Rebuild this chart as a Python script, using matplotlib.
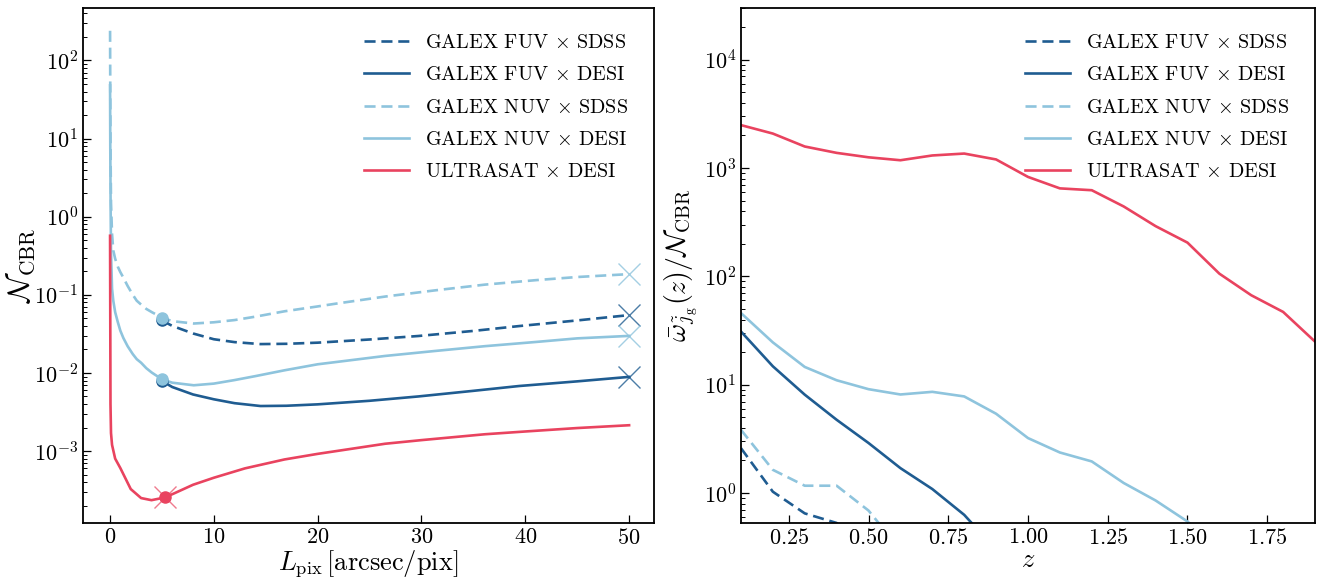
import numpy as np
import matplotlib
matplotlib.use("Agg")
import matplotlib.pyplot as plt

plt.rcParams['font.family'] = 'serif'
plt.rcParams['font.serif'] = ['cmr10', 'DejaVu Serif']
plt.rcParams['mathtext.fontset'] = 'cm'
plt.rcParams['axes.formatter.use_mathtext'] = True
plt.rcParams['axes.unicode_minus'] = False

c_dark = '#1f5c91'
c_light = '#8ec4dd'
c_red = '#e9435f'

labels = [r'GALEX FUV $\times$ SDSS', r'GALEX FUV $\times$ DESI',
          r'GALEX NUV $\times$ SDSS', r'GALEX NUV $\times$ DESI',
          r'ULTRASAT $\times$ DESI']

# ---- left panel: N_CBR vs L_pix ----
L_fuv = [5, 6, 8, 10, 12, 14.5, 17, 20, 25, 29.7, 35, 39.4, 45, 50]
N_fuv_sdss = [0.047, 0.040, 0.032, 0.027, 0.0248, 0.0234, 0.0236, 0.0244,
              0.0268, 0.0297, 0.0345, 0.0398, 0.047, 0.055]
N_fuv_desi = [0.0079, 0.0066, 0.0053, 0.0046, 0.0041, 0.00377, 0.0038, 0.00396,
              0.0044, 0.0050, 0.0059, 0.0068, 0.0078, 0.0089]

L_nuv = [0.01, 0.03, 0.06, 0.1, 0.2, 0.32, 0.5, 0.75, 1, 1.29, 1.7, 2.2, 2.58, 3, 3.5, 4.03,
         5, 6, 8.07, 10, 12, 14, 16.8, 20, 21.6, 26.5, 31.3, 36.1, 41, 45, 50]
N_nuv_sdss = [240, 40, 6, 1.5, 0.6, 0.37, 0.29, 0.23, 0.195, 0.166, 0.13, 0.1, 0.084, 0.075,
              0.066, 0.06, 0.0512, 0.046, 0.0429, 0.0445, 0.0475, 0.0525, 0.0615, 0.071, 0.0765,
              0.095, 0.114, 0.135, 0.154, 0.169, 0.184]
N_nuv_desi = [48, 8, 1.5, 0.35, 0.12, 0.084, 0.06, 0.045, 0.0347, 0.028, 0.022, 0.0174, 0.015,
              0.0135, 0.0115, 0.0101, 0.0083, 0.0075, 0.00695, 0.0073, 0.0081, 0.0091, 0.0108,
              0.0129, 0.0137, 0.0165, 0.0191, 0.0220, 0.0249, 0.0277, 0.0298]

L_ultra = [0.01, 0.05, 0.1, 0.2, 0.5, 1, 2, 3, 4, 5, 6, 8, 10, 13, 16.8, 20, 26.5, 30, 36.1, 40, 45, 50]
N_ultra = [0.57, 0.004, 0.0017, 0.0012, 8e-4, 6.05e-4, 3.26e-4, 2.5e-4, 2.35e-4, 2.5e-4, 2.8e-4,
           3.7e-4, 4.55e-4, 6e-4, 7.8e-4, 9.2e-4, 1.24e-3, 1.38e-3, 1.64e-3, 1.78e-3, 1.97e-3, 2.14e-3]

# optimum (dots) and largest pixel (crosses)
opt_L = [5, 5, 5, 5, 5.3]
opt_N = [0.047, 0.0079, 0.0512, 0.0083, 2.57e-4]
end_L = [50, 50, 50, 50]
end_N = [0.055, 0.0089, 0.184, 0.0298]

# ---- right panel: omega / N_CBR vs z ----
z = [0.1, 0.2, 0.3, 0.4, 0.5, 0.6, 0.7, 0.8, 0.9, 1.0, 1.1, 1.2, 1.3, 1.4, 1.5, 1.6, 1.7, 1.8, 1.9]
w_fuv_sdss = [2.6, 1.03, 0.65, 0.53, 0.25]
w_fuv_desi = [31, 14.8, 8.1, 4.75, 2.9, 1.70, 1.09, 0.63, 0.3]
w_nuv_sdss = [3.84, 1.64, 1.17, 1.17, 0.69, 0.3]
w_nuv_desi = [45.9, 24.6, 14.6, 11.0, 9.1, 8.13, 8.6, 7.8, 5.4, 3.22, 2.37, 1.96, 1.24, 0.855,
              0.547, 0.3]
w_ultra = [2490, 2080, 1580, 1380, 1256, 1180, 1306, 1360, 1200, 828, 649, 624, 442, 291, 205,
           106, 67, 47, 25]

fig = plt.figure(figsize=(13.17, 5.78), dpi=100)
ax1 = fig.add_axes([0.0630, 0.0952, 0.4336, 0.8910])
ax2 = fig.add_axes([0.5626, 0.0952, 0.4359, 0.8910])

lw = 1.9
dash = (4.2, 2.2)
ax1.plot(L_fuv, N_fuv_sdss, '--', dashes=dash, color=c_dark, lw=lw, label=labels[0])
ax1.plot(L_fuv, N_fuv_desi, '-', color=c_dark, lw=lw, label=labels[1])
ax1.plot(L_nuv, N_nuv_sdss, '--', dashes=dash, color=c_light, lw=lw, label=labels[2])
ax1.plot(L_nuv, N_nuv_desi, '-', color=c_light, lw=lw, label=labels[3])
ax1.plot(L_ultra, N_ultra, '-', color=c_red, lw=lw, label=labels[4])

dot_cols = [c_dark, c_dark, c_light, c_light, c_red]
for i in range(len(opt_L)):
    ax1.plot(opt_L[i], opt_N[i], 'o', color=dot_cols[i], ms=8, zorder=5)
ax1.plot(opt_L[4], opt_N[4], 'x', color=c_red, ms=16, mew=1.0, alpha=0.7, zorder=5)
end_cols = [c_dark, c_dark, c_light, c_light]
for i in range(len(end_L)):
    ax1.plot(end_L[i], end_N[i], 'x', color=end_cols[i], ms=16, mew=1.0, alpha=0.8, zorder=5)

ax1.set_yscale('log')
ax1.set_xlim(-2.6, 52.4)
ax1.set_ylim(1.2e-4, 470)
ax1.set_yticks([1e-3, 1e-2, 1e-1, 1, 10, 100])
ax1.set_xticks([0, 10, 20, 30, 40, 50])
ax1.set_xlabel(r'$L_{\rm pix}\,[{\rm arcsec/pix}]$', fontsize=19, labelpad=0)
ax1.set_ylabel(r'$\mathcal{N}_{\rm CBR}$', fontsize=22)
ax1.yaxis.set_label_coords(-0.08, 0.5)

ax2.plot(z[:len(w_fuv_sdss)], w_fuv_sdss, '--', dashes=dash, color=c_dark, lw=lw, label=labels[0])
ax2.plot(z[:len(w_fuv_desi)], w_fuv_desi, '-', color=c_dark, lw=lw, label=labels[1])
ax2.plot(z[:len(w_nuv_sdss)], w_nuv_sdss, '--', dashes=dash, color=c_light, lw=lw, label=labels[2])
ax2.plot(z[:len(w_nuv_desi)], w_nuv_desi, '-', color=c_light, lw=lw, label=labels[3])
ax2.plot(z, w_ultra, '-', color=c_red, lw=lw, label=labels[4])
ax2.set_yscale('log')
ax2.set_xlim(0.1, 1.9)
ax2.set_ylim(0.53, 3.0e4)
ax2.set_yticks([1, 10, 100, 1e3, 1e4])
ax2.set_xticks([0.25, 0.5, 0.75, 1.0, 1.25, 1.5, 1.75])
ax2.set_xlabel(r'$z$', fontsize=19, labelpad=0)
ax2.set_ylabel(r'$\bar{\omega}_{\tilde{j}_{\rm g}}(z)/\mathcal{N}_{\rm CBR}$', fontsize=20)
ax2.yaxis.set_label_coords(-0.072, 0.5)

for ax in (ax1, ax2):
    ax.tick_params(which='both', direction='in', top=False, right=False, labelsize=16)
    ax.tick_params(which='major', length=6, width=0.9)
    ax.tick_params(which='minor', length=3, width=0.7)
    for s in ax.spines.values():
        s.set_linewidth(1.3)
    ax.legend(loc='upper right', frameon=False, fontsize=14.5, labelspacing=0.7,
              borderaxespad=0.9, handlelength=2.2)

fig.savefig('out.png', dpi=100)
